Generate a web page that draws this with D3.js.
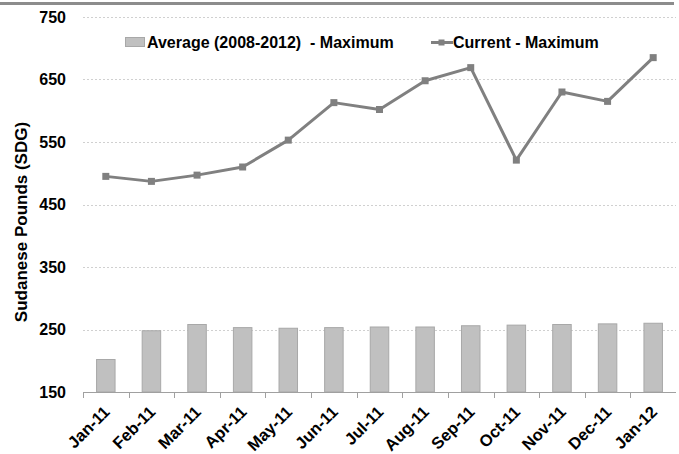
<!DOCTYPE html>
<html>
<head>
<meta charset="utf-8">
<script src="https://cdn.jsdelivr.net/npm/d3@7/dist/d3.min.js"></script>
<style>
  html, body { margin: 0; padding: 0; background: #fff; }
  svg { display: block; font-family: "Liberation Sans", Arial, sans-serif; }
</style>
</head>
<body>
<svg id="chart" width="679" height="454"></svg>
<script>
// Monthly maximum prices, Sudanese Pounds (SDG)
const months = ["Jan-11","Feb-11","Mar-11","Apr-11","May-11","Jun-11","Jul-11",
                "Aug-11","Sep-11","Oct-11","Nov-11","Dec-11","Jan-12"];
const averageMax = [202, 248, 258, 253, 252, 253, 254, 254, 256, 257, 258, 259, 260];
const currentMax = [495, 487, 497, 510, 553, 613, 602, 648, 669, 521, 630, 615, 685];
const yTicks = [150, 250, 350, 450, 550, 650, 750];
const seriesNames = ["Average (2008-2012)  - Maximum", "Current - Maximum"];

const svg = d3.select("#chart");
const margin = { left: 83, right: 3, top: 17, bottom: 62 };
const W = 679, H = 454;

const x = d3.scaleBand().domain(months).range([margin.left, W - margin.right]).paddingInner(0).paddingOuter(0);
const y = d3.scaleLinear().domain([150, 750]).range([H - margin.bottom, margin.top]);

// frame edge along the top
svg.append("line").attr("x1", 0).attr("x2", 674).attr("y1", 3.5).attr("y2", 3.5)
  .attr("stroke", "#8c8c8c").attr("stroke-width", 3);

// horizontal gridlines
svg.append("g").selectAll("line").data(yTicks.filter(d => d > 150)).join("line")
  .attr("x1", margin.left).attr("x2", W - margin.right)
  .attr("y1", d => Math.round(y(d)) + 0.5).attr("y2", d => Math.round(y(d)) + 0.5)
  .attr("stroke", "#d0d0d0").attr("stroke-dasharray", "2,2");

// y axis labels
const yAxis = d3.axisLeft(y).tickValues(yTicks).tickSize(0).tickPadding(0);
const gy = svg.append("g").attr("transform", `translate(${margin.left - 17},0)`).call(yAxis);
gy.select(".domain").remove();
gy.selectAll("text").attr("font-size", 16).attr("font-weight", "bold").attr("fill", "#000")
  .attr("font-family", "Liberation Sans, Arial, sans-serif");

// bars
const bw = 18.5;
svg.append("g").selectAll("rect").data(months).join("rect")
  .attr("x", d => x(d) + x.bandwidth() / 2 - bw / 2)
  .attr("width", bw)
  .attr("y", (d, i) => y(averageMax[i]))
  .attr("height", (d, i) => y(150) - y(averageMax[i]))
  .attr("fill", "#c0c0c0").attr("stroke", "#a8a8a8").attr("stroke-width", 1);

// x axis
const xAxis = d3.axisBottom(x).tickSize(0).tickPadding(0);
const gx = svg.append("g").attr("transform", `translate(0,${y(150)})`).call(xAxis);
gx.select(".domain").remove();
gx.selectAll(".tick text")
  .attr("font-size", 16.5).attr("font-weight", "bold").attr("fill", "#000")
  .attr("font-family", "Liberation Sans, Arial, sans-serif")
  .attr("text-anchor", "end")
  .attr("dy", 0)
  .attr("transform", "translate(5,21) rotate(-45)");
svg.append("line").attr("x1", margin.left).attr("x2", W - margin.right)
  .attr("y1", y(150) + 0.5).attr("y2", y(150) + 0.5).attr("stroke", "#a0a0a0").attr("stroke-width", 1);
svg.append("g").selectAll("line").data(months).join("line")
  .attr("x1", d => Math.round(x(d)) + 0.5).attr("x2", d => Math.round(x(d)) + 0.5)
  .attr("y1", y(150)).attr("y2", y(150) + 6)
  .attr("stroke", "#a0a0a0");

// current line
const line = d3.line().x((d, i) => x(months[i]) + x.bandwidth() / 2).y(d => y(d));
svg.append("path").datum(currentMax).attr("d", line)
  .attr("fill", "none").attr("stroke", "#808080").attr("stroke-width", 3).attr("stroke-linejoin", "round");
svg.append("g").selectAll("rect").data(currentMax).join("rect")
  .attr("x", (d, i) => x(months[i]) + x.bandwidth() / 2 - 3.5)
  .attr("y", d => y(d) - 3.5)
  .attr("width", 7).attr("height", 7).attr("fill", "#808080");

// y axis title
svg.append("text")
  .attr("transform", "translate(27,222) rotate(-90)")
  .attr("text-anchor", "middle")
  .attr("font-size", 17).attr("font-weight", "bold").attr("fill", "#000")
  .text("Sudanese Pounds (SDG)");

// legend
const lg = svg.append("g");
lg.append("rect").attr("x", 125.5).attr("y", 37.5).attr("width", 19).attr("height", 9)
  .attr("fill", "#c0c0c0").attr("stroke", "#a8a8a8");
lg.append("text").attr("x", 147).attr("y", 48).attr("font-size", 16).attr("font-weight", "bold")
  .attr("fill", "#000").attr("xml:space", "preserve").text(seriesNames[0]);
lg.append("line").attr("x1", 431).attr("x2", 453).attr("y1", 42.5).attr("y2", 42.5)
  .attr("stroke", "#808080").attr("stroke-width", 3);
lg.append("rect").attr("x", 438.5).attr("y", 39.5).attr("width", 6).attr("height", 6).attr("fill", "#808080");
lg.append("text").attr("x", 453).attr("y", 48).attr("font-size", 16).attr("font-weight", "bold")
  .attr("fill", "#000").text(seriesNames[1]);
</script>
</body>
</html>
